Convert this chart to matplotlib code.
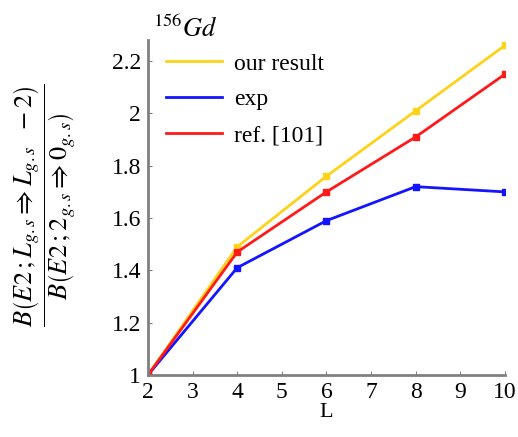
import matplotlib
matplotlib.use("Agg")
import matplotlib.pyplot as plt
from matplotlib.lines import Line2D

plt.rcParams["font.family"] = "Liberation Serif"
plt.rcParams["mathtext.fontset"] = "stix"

L = [2, 4, 6, 8, 10]
our_result = [1.0, 1.49, 1.76, 2.01, 2.26]
exp = [1.0, 1.41, 1.59, 1.72, 1.70]
ref101 = [1.0, 1.47, 1.70, 1.91, 2.15]

series = [("our result", our_result, "#ffd21a"),
          ("exp", exp, "#1414ff"),
          ("ref. [101]", ref101, "#ff1a1a")]

fig = plt.figure(figsize=(5.18, 4.37), dpi=100)
ax = fig.add_axes([0.2857, 0.142, 0.689, 0.766])

handles = []
for name, vals, col in series:
    ax.plot(L, vals, color=col, lw=2, marker="s", ms=4)
    # legend shows plain lines only
    handles.append(Line2D([], [], color=col, lw=2, label=name))

ax.set_xlim(2, 10)
ax.set_ylim(1, 2.28)
ax.set_xticks(range(2, 11))
ax.set_yticks([1, 1.2, 1.4, 1.6, 1.8, 2, 2.2])
ax.set_yticklabels(["1", "1.2", "1.4", "1.6", "1.8", "2", "2.2"])

for s in ["top", "right"]:
    ax.spines[s].set_visible(False)
for s in ["left", "bottom"]:
    ax.spines[s].set_color("#808080")
    ax.spines[s].set_linewidth(2)
ax.tick_params(direction="in", length=3, color="#808080", labelsize=17, pad=5)

ax.set_xlabel("L", fontsize=16, labelpad=0)
fig.text(0.085, 0.53,
         r"$\dfrac{B\left(E2\,;L_{g.s}\Rightarrow L_{g.s}\ \ -2\right)}{B\left(E2\,;2_{g.s}\Rightarrow 0_{g.s}\right)}$",
         rotation=90, ha="center", va="center", fontsize=19)
fig.text(0.295, 0.905, r"$^{156}Gd$", fontsize=19, ha="left", va="bottom")

ax.legend(handles=handles, loc="upper left", frameon=False, fontsize=17,
          handlelength=2.4, handletextpad=0.5,
          bbox_to_anchor=(-0.01, 1.025), labelspacing=0.6)

fig.savefig("out.png", dpi=100)
